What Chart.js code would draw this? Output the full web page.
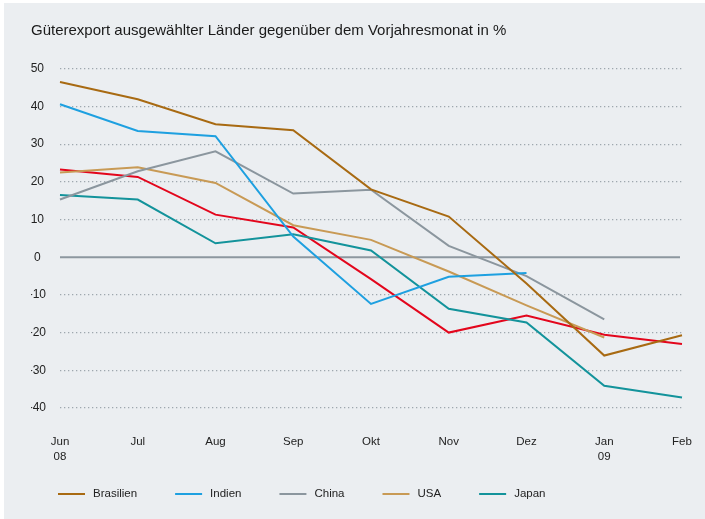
<!DOCTYPE html>
<html><head><meta charset="utf-8">
<script src="https://cdn.jsdelivr.net/npm/chart.js@4"></script>
<style>
html,body{margin:0;padding:0;background:#fff;}
#wrap{position:relative;width:705px;height:519px;overflow:hidden;}
#panel{position:absolute;left:4px;top:3px;right:0;bottom:0;background:#ebeef1;}
canvas{position:absolute;left:0;top:0;}
</style></head><body>
<div id="wrap"><div id="panel"></div><canvas id="c" width="705" height="519"></canvas></div>
<script>
const FONT = '"Liberation Sans", Arial, Helvetica, sans-serif';
const title = 'Güterexport ausgewählter Länder gegenüber dem Vorjahresmonat in %';
const months = [['Jun','08'],'Jul','Aug','Sep','Okt','Nov','Dez',['Jan','09'],'Feb'];
const brasilien = [46.5, 41.9, 35.3, 33.7, 18.0, 10.8, -7.0, -26.1, -20.7];
const indien    = [40.6, 33.5, 32.1, 5.5, -12.4, -5.2, -4.2, null, null];
const china     = [15.3, 22.8, 28.1, 16.9, 17.9, 3.0, -5.0, -16.5, null];
const usa       = [22.5, 23.9, 19.7, 8.5, 4.6, -3.8, -12.8, -21.3, null];
const japan     = [16.5, 15.3, 3.7, 6.1, 1.8, -13.7, -17.3, -34.1, -37.2];
const rot       = [23.3, 21.3, 11.3, 7.9, -5.8, -20.0, -15.5, -20.6, -23.0];
const yMin = -40, yMax = 50, yStep = 10;

function ds(label, data, color){
  return {label, data, borderColor: color, backgroundColor: color, borderWidth: 2,
          pointRadius: 0, tension: 0, fill: false, spanGaps: false};
}

const zeroLine = {
  id: 'zeroLine',
  beforeDatasetsDraw(chart){
    const {ctx, chartArea, scales} = chart;
    const y = scales.y.getPixelForValue(0);
    ctx.save();
    ctx.strokeStyle = '#8d979f'; ctx.lineWidth = 2;
    ctx.beginPath(); ctx.moveTo(chartArea.left, y); ctx.lineTo(chartArea.right - 2, y); ctx.stroke();
    ctx.restore();
  }
};

const bottomLegend = {
  id: 'bottomLegend',
  afterDraw(chart){
    const ctx = chart.ctx;
    ctx.save();
    ctx.font = '11.5px ' + FONT; ctx.textBaseline = 'middle'; ctx.textAlign = 'left';
    let x = 58; const y = 494;
    chart.data.datasets.forEach(d => {
      if (!d.label) return;
      ctx.strokeStyle = d.borderColor; ctx.lineWidth = 2;
      ctx.beginPath(); ctx.moveTo(x, y); ctx.lineTo(x + 27, y); ctx.stroke();
      ctx.fillStyle = '#222'; ctx.fillText(d.label, x + 35, y);
      x += 35 + ctx.measureText(d.label).width + 38;
    });
    ctx.restore();
  }
};

new Chart(document.getElementById('c'), {
  type: 'line',
  data: {
    labels: months,
    datasets: [
      ds('Brasilien', brasilien, '#a86a12'),
      ds('Indien', indien, '#1ea0e0'),
      ds('China', china, '#8b969e'),
      ds('USA', usa, '#c89a55'),
      ds('Japan', japan, '#13939b'),
      ds('', rot, '#e3061c')
    ]
  },
  options: {
    responsive: false, animation: false, devicePixelRatio: 1,
    layout: {padding: {left: 31, right: 23, top: 0, bottom: 51}},
    plugins: {
      legend: {display: false},
      tooltip: {enabled: false},
      title: {display: true, text: title, align: 'start', color: '#1a1a1a',
              font: {family: FONT, size: 15, weight: 'normal'}, padding: {top: 21.5, bottom: 29.3}}
    },
    scales: {
      x: {
        offset: false,
        grid: {display: false, drawTicks: true, tickLength: 23},
        border: {display: false},
        ticks: {color: '#222', font: {family: FONT, size: 11.5, lineHeight: 1.35}, padding: 3,
                maxRotation: 0, autoSkip: false}
      },
      y: {
        min: yMin, max: yMax,
        afterFit: s => { s.width = 29; },
        grid: {drawTicks: false, lineWidth: 1.3,
               color: c => (c.tick && c.tick.value === 0) ? 'rgba(0,0,0,0)' : '#9ea7ae'},
        border: {display: false, dash: [1.3, 2.7]},
        ticks: {stepSize: yStep, crossAlign: 'center', padding: 14, color: '#222',
                font: {family: FONT, size: 12}}
      }
    }
  },
  plugins: [zeroLine, bottomLegend]
});
</script>
</body></html>
